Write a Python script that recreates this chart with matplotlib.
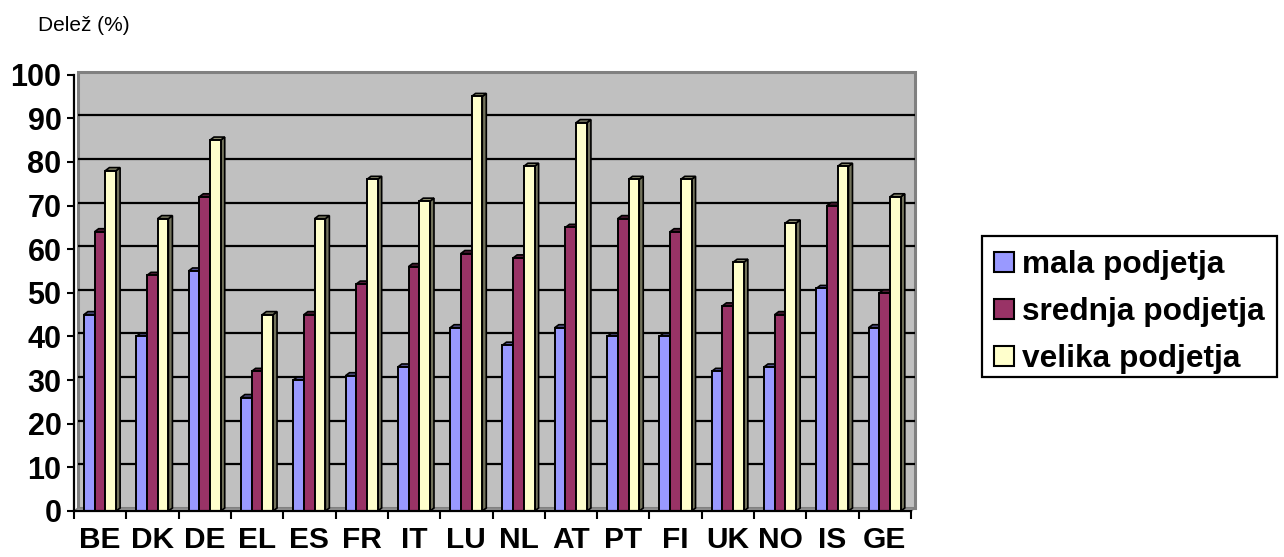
import matplotlib
matplotlib.use("Agg")
import matplotlib.pyplot as plt
from matplotlib.patches import Rectangle, Polygon
import matplotlib.transforms as mtransforms
import numpy as np

plt.rcParams['font.family'] = ['Liberation Sans', 'DejaVu Sans']

# ---- data ----
categories = ["BE", "DK", "DE", "EL", "ES", "FR", "IT", "LU",
              "NL", "AT", "PT", "FI", "UK", "NO", "IS", "GE"]
series_names = ["mala podjetja", "srednja podjetja", "velika podjetja"]
mala = [45, 40, 55, 26, 30, 31, 33, 42, 38, 42, 40, 40, 32, 33, 51, 42]
srednja = [64, 54, 72, 32, 45, 52, 56, 59, 58, 65, 67, 64, 47, 45, 70, 50]
velika = [78, 67, 85, 45, 67, 76, 71, 95, 79, 89, 76, 76, 57, 66, 79, 72]
y_ticks = list(range(0, 101, 10))
y_label = "Delež (%)"

series_values = [mala, srednja, velika]
colors = ["#9999FF", "#993366", "#FFFFCC"]

W, H = 1284, 557
fig = plt.figure(figsize=(W / 100, H / 100), dpi=100)
fig.patch.set_facecolor("white")

def fx(px):
    return px / W

def fy(py):
    return 1 - py / H

# axes (front plane)
ax_left, ax_right, ax_top, ax_bottom = 74, 911, 74.6, 511
ax = fig.add_axes([fx(ax_left), fy(ax_bottom), fx(ax_right - ax_left), (ax_bottom - ax_top) / H])
n = len(categories)
ax.set_xlim(0, n)
ax.set_ylim(0, 100)
ax.patch.set_visible(False)

# 3D depth (pixels)
DX, DY = 4, 3
off = mtransforms.ScaledTranslation(DX / 100, DY / 100, fig.dpi_scale_trans)

# back wall
wall = Rectangle((0, 0), 1, 1, transform=ax.transAxes + off, facecolor="#C0C0C0",
                 edgecolor="#808080", lw=2.2, zorder=0, clip_on=False)
ax.add_patch(wall)
# gridlines on back wall
ax.hlines(y_ticks[1:-1], 0, n, colors="black", lw=1.6, transform=ax.transData + off,
          zorder=0.5, clip_on=False)

# data units per pixel
ax_w_px = ax_right - ax_left
ax_h_px = ax_bottom - ax_top
ddx = DX * n / ax_w_px
ddy = DY * 100 / ax_h_px

# floor
floor = Polygon([(0, 0), (n, 0), (n + ddx, ddy), (ddx, ddy)], closed=True,
                facecolor="#A0A0A0", edgecolor="#808080", lw=1, zorder=0.6, clip_on=False)
ax.add_patch(floor)

def shade(c, f):
    rgb = np.array(matplotlib.colors.to_rgb(c))
    return tuple(rgb * f)

start = 0.19
bw = 0.205
z = 2
for i in range(n):
    for k, vals in enumerate(series_values):
        x0 = i + start + k * bw
        x1 = x0 + bw
        h = vals[i]
        side = Polygon([(x1, 0), (x1, h), (x1 + ddx, h + ddy), (x1 + ddx, ddy)], closed=True,
                       facecolor=shade(colors[k], 0.45), edgecolor="black", lw=1.2,
                       zorder=z, clip_on=False)
        top = Polygon([(x0, h), (x1, h), (x1 + ddx, h + ddy), (x0 + ddx, h + ddy)], closed=True,
                      facecolor=shade(colors[k], 0.55), edgecolor="black", lw=1.2,
                      zorder=z, clip_on=False)
        ax.add_patch(side)
        ax.add_patch(top)
        ax.bar(x0, h, width=bw, align="edge", color=colors[k], edgecolor="black",
               lw=1.4, zorder=z + 0.1, clip_on=False)
        z += 0.2

# spines
for s in ["top", "right"]:
    ax.spines[s].set_visible(False)
for s in ["left", "bottom"]:
    ax.spines[s].set_linewidth(1.6)
    ax.spines[s].set_color("black")
    ax.spines[s].set_zorder(50)

ax.set_yticks(y_ticks)
ax.set_yticklabels([str(v) for v in y_ticks], fontsize=22, fontweight="bold")
ax.tick_params(axis="y", length=5, width=1.5, pad=4)

ax.set_xticks(np.arange(0, n + 1))
ax.set_xticklabels([])
ax.set_xticks(np.arange(n) + 0.5, minor=True)
ax.set_xticklabels(categories, minor=True, fontsize=21.5, fontweight="bold")
ax.tick_params(axis="x", which="major", length=6, width=1.5)
ax.tick_params(axis="x", which="minor", length=0, pad=11)

# y-axis title
fig.text(fx(38), fy(31), y_label, fontsize=15, ha="left", va="baseline")

# legend (manual, Excel-style)
lg = Rectangle((fx(982), fy(377)), fx(1277 - 982), (377 - 236) / H, transform=fig.transFigure,
               facecolor="white", edgecolor="black", lw=1.6)
fig.patches.append(lg)
row_centers = [261.5, 308.8, 355.8]
msz = 20
for k, name in enumerate(series_names):
    cy = row_centers[k]
    m = Rectangle((fx(994), fy(cy + msz / 2)), fx(msz), msz / H, transform=fig.transFigure,
                  facecolor=colors[k], edgecolor="black", lw=1.5)
    fig.patches.append(m)
    fig.text(fx(1022), fy(cy + 11), name, fontsize=22.8, fontweight="bold",
             ha="left", va="baseline")

fig.savefig("out.png", dpi=100)
